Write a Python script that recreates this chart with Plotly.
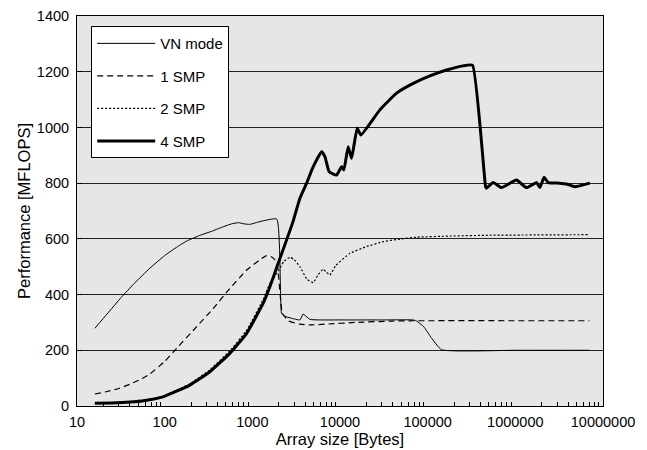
import plotly.graph_objects as go

# ---------------- data ----------------
vn_x = [16, 22, 32, 45, 68, 100, 140, 178, 250, 350, 427, 520, 600, 700, 800, 935, 1222, 1900,
        2150, 2300, 2800, 3490, 3800, 4540, 10000, 30000, 68400, 74000, 90000, 110000, 144000, 1000000,
        7000000]
vn_y = [279, 330, 390, 440, 495, 540, 572, 592, 612, 628, 639, 649, 655, 658, 654, 652, 662, 671,
        333, 323, 315, 309, 330, 311, 309, 309, 309, 306, 285, 245, 202, 200,
        200]

smp1_x = [16, 22, 30, 40, 55, 68, 100, 137, 232, 358, 531, 861, 1222, 1455, 1650, 1811, 1950, 2200, 2600,
          3490, 4500, 7000, 15000, 40000, 70000, 7000000]
smp1_y = [43, 52, 63, 78, 98, 115, 160, 207, 285, 350, 415, 488, 525, 540, 536, 524, 495, 333, 305,
          294, 291, 294, 300, 305, 306, 306]

smp2_x = [16, 25, 40, 60, 96, 194, 328, 554, 861, 1331, 1585, 1900, 2300, 2690, 3000, 3490, 4200, 4950,
          5600, 6430, 7000, 7670, 9000, 12970, 20000, 31100, 50000, 74800, 179000, 500000, 7000000]
smp2_y = [11, 12, 15, 21, 35, 80, 130, 198, 272, 383, 440, 475, 520, 534, 525, 500, 455, 443,
          470, 491, 480, 470, 505, 548, 572, 590, 600, 606, 610, 613, 615]

smp4_x = [16, 25, 40, 60, 96, 194, 328, 554, 861, 1331, 1585, 1972, 2900, 3490, 4160, 4950, 6170,
          6730, 7530, 9140, 10420, 11070, 12390, 13550, 15700, 17300, 28500, 44200, 68400, 106000,
          164000, 254000, 325000, 458000, 469000, 558000, 696000, 1030000, 1340000,
          1750000, 1900000, 2130000, 2370000, 3210000, 3830000, 4770000, 7080000]
smp4_y = [10, 11, 14, 20, 33, 75, 123, 189, 261, 369, 428, 512, 660, 746, 800, 859, 913,
          895, 841, 829, 859, 847, 931, 889, 997, 973, 1063, 1123, 1158, 1185,
          1206, 1221, 1223, 787, 782, 802, 784, 811, 784,
          802, 784, 821, 802, 800, 797, 787, 800]

series_names = ["VN mode", "1 SMP", "2 SMP", "4 SMP"]

x_tickvals = [10, 100, 1000, 10000, 100000, 1000000, 10000000]
x_ticktext = ["10", "100", "1000", "10000", "100000", "1000000", "10000000"]
y_tickvals = [0, 200, 400, 600, 800, 1000, 1200, 1400]

# minor tick positions (2..9 within each decade)
x_minor = [m * d for d in x_tickvals[:-1] for m in range(2, 10)]

# ---------------- figure ----------------
FONT = "Liberation Sans, Arial, Helvetica, sans-serif"

fig = go.Figure()
styles = [
    dict(width=1, dash="solid"),
    dict(width=1.2, dash="6px,4px"),
    dict(width=1.2, dash="2px,2px"),
    dict(width=3, dash="solid"),
]
for i, (xs, ys) in enumerate([(vn_x, vn_y), (smp1_x, smp1_y), (smp2_x, smp2_y), (smp4_x, smp4_y)]):
    fig.add_trace(go.Scatter(
        x=xs, y=ys, mode="lines", name=series_names[i],
        legendgroup=series_names[i],
        line=dict(color="black", shape="spline", smoothing=0.4, **styles[i]),
    ))

fig.update_layout(
    width=647, height=450,
    margin=dict(l=77, r=44, t=16, b=44, autoexpand=False),
    paper_bgcolor="white",
    plot_bgcolor="#e6e6e6",
    font=dict(family=FONT, size=14.5, color="black"),
    showlegend=True,
    legend=dict(
        x=0.027, y=0.974, xanchor="left", yanchor="top",
        bgcolor="white", bordercolor="black", borderwidth=1,
        font=dict(family=FONT, size=15),
        traceorder="grouped", tracegroupgap=10,
        itemwidth=58,
    ),
    xaxis=dict(
        type="log", range=[1, 7], automargin=False,
        tickvals=x_tickvals, ticktext=x_ticktext,
        ticks="", showgrid=False, zeroline=False,
        showline=True, linecolor="black", linewidth=1, mirror=True,
        tickfont=dict(size=14.5),
        ticklabelstandoff=3,
        minor=dict(tickvals=x_minor, ticks="inside", ticklen=4, tickcolor="black", showgrid=False),
        title=dict(text="Array size [Bytes]", font=dict(size=16.5), standoff=0),
    ),
    yaxis=dict(
        range=[0, 1400], tickvals=y_tickvals, automargin=False,
        ticks="inside", ticklen=5, tickcolor="black",
        showgrid=True, gridcolor="#222222", gridwidth=1, zeroline=False,
        showline=True, linecolor="black", linewidth=1, mirror=True,
        tickfont=dict(size=14.5),
        ticklabelstandoff=4,
        title=dict(text="Performance [MFLOPS]", font=dict(size=16.5), standoff=2),
    ),
)

fig.write_html("out.html")
